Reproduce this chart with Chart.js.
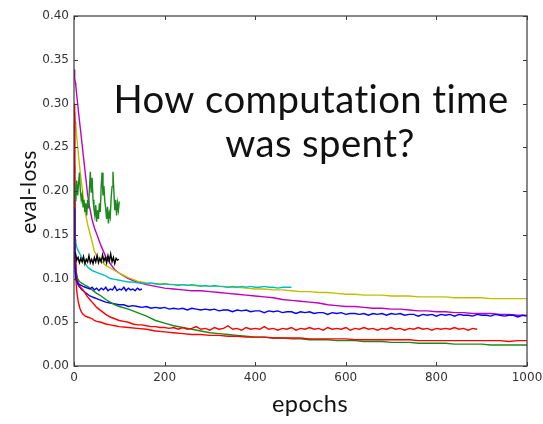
<!DOCTYPE html>
<html>
<head>
<meta charset="utf-8">
<script src="https://cdn.jsdelivr.net/npm/chart.js@4.4.1/dist/chart.umd.min.js"></script>
<style>
  html, body { margin: 0; padding: 0; background: #fff; }
  #wrap { width: 543px; height: 424px; }
</style>
</head>
<body>
<div id="wrap"><canvas id="lossChart" width="543" height="424"></canvas></div>
<script>
function grid(head, from, to, step) {
  const out = head.slice()
  for (let e = from; e <= to; e += step) out.push(e)
  return out
}
const early = [0, 1, 2, 3, 4, 6, 8, 10, 13, 16, 20, 25, 30, 35, 40, 45, 50, 60, 70, 80, 90, 100]

const epochsSmooth = grid(early, 120, 1000, 20)
const epochsBlue = grid(early, 110, 1000, 10)
const epochsRedNoisy = grid(early, 110, 890, 10)
const epochsCyan = grid(early, 110, 480, 10)
const epochsBlueShort = grid([0, 1, 2, 3, 4, 6, 8, 10, 13, 16, 20, 25, 30], 35, 150, 5)
const epochsBlack = grid([], 3, 99, 3)
const epochsGreenShort = grid([], 2, 100, 2)

const xTicks = [0, 200, 400, 600, 800, 1000]
const yTicks = [0, 0.05, 0.1, 0.15, 0.2, 0.25, 0.3, 0.35, 0.4]

const magentaLoss = [
  0.339, 0.334, 0.329, 0.324, 0.320, 0.310, 0.300, 0.290, 0.276, 0.262, 0.243,
  0.220, 0.196, 0.180, 0.167, 0.158, 0.151, 0.137, 0.125, 0.117, 0.110, 0.106,
  0.100, 0.096, 0.093, 0.091, 0.089, 0.088, 0.087, 0.086, 0.086, 0.085, 0.084,
  0.083, 0.082, 0.081, 0.080, 0.079, 0.078, 0.076, 0.075, 0.074, 0.073, 0.072,
  0.070, 0.069, 0.068, 0.068, 0.067, 0.066, 0.066, 0.065, 0.065, 0.064, 0.063,
  0.063, 0.062, 0.062, 0.061, 0.061, 0.060, 0.060, 0.060, 0.059, 0.059, 0.058, 0.058,
]
const yellowLoss = [
  0.285, 0.283, 0.281, 0.279, 0.276, 0.262, 0.252, 0.240, 0.225, 0.212, 0.195,
  0.175, 0.162, 0.152, 0.142, 0.131, 0.126, 0.120, 0.115, 0.112, 0.109, 0.106,
  0.101, 0.097, 0.095, 0.094, 0.094, 0.093, 0.093, 0.092, 0.092, 0.091, 0.091,
  0.090, 0.090, 0.089, 0.088, 0.088, 0.087, 0.087, 0.086, 0.085, 0.085, 0.084,
  0.084, 0.083, 0.082, 0.082, 0.081, 0.081, 0.081, 0.080, 0.080, 0.080, 0.079,
  0.079, 0.079, 0.079, 0.078, 0.078, 0.078, 0.078, 0.077, 0.077, 0.077, 0.077, 0.077,
]
const greenLoss = [
  0.230, 0.170, 0.140, 0.122, 0.112, 0.104, 0.100, 0.098, 0.096, 0.095, 0.094,
  0.092, 0.091, 0.089, 0.087, 0.085, 0.083, 0.080, 0.076, 0.073, 0.070, 0.068,
  0.065, 0.061, 0.057, 0.052, 0.049, 0.046, 0.044, 0.042, 0.040, 0.038, 0.037,
  0.036, 0.035, 0.034, 0.033, 0.033, 0.032, 0.032, 0.031, 0.031, 0.030, 0.030,
  0.030, 0.029, 0.029, 0.029, 0.028, 0.028, 0.028, 0.027, 0.027, 0.027, 0.026,
  0.026, 0.026, 0.026, 0.025, 0.025, 0.025, 0.025, 0.024, 0.024, 0.024, 0.024, 0.024,
]
const redLoss = [
  0.300, 0.190, 0.140, 0.115, 0.100, 0.086, 0.078, 0.072, 0.066, 0.062, 0.059,
  0.057, 0.056, 0.055, 0.054, 0.052, 0.051, 0.050, 0.048, 0.047, 0.046, 0.045,
  0.044, 0.043, 0.042, 0.040, 0.039, 0.038, 0.037, 0.036, 0.036, 0.035, 0.035,
  0.034, 0.034, 0.033, 0.033, 0.033, 0.032, 0.032, 0.032, 0.032, 0.031, 0.031,
  0.031, 0.031, 0.031, 0.030, 0.030, 0.030, 0.030, 0.030, 0.030, 0.030, 0.029,
  0.029, 0.029, 0.029, 0.029, 0.029, 0.029, 0.029, 0.029, 0.029, 0.028, 0.029, 0.029,
]
const redNoisyLoss = [
  0.290, 0.200, 0.150, 0.125, 0.112, 0.102, 0.097, 0.094, 0.091, 0.089, 0.087,
  0.083, 0.079, 0.076, 0.073, 0.070, 0.067, 0.063, 0.059, 0.056, 0.054, 0.052,
  0.051, 0.050, 0.048, 0.047, 0.047, 0.046, 0.045, 0.045, 0.044, 0.044,
  0.043, 0.044, 0.042, 0.044, 0.042, 0.043, 0.045, 0.042, 0.043, 0.041,
  0.044, 0.042, 0.043, 0.046, 0.042, 0.043, 0.041, 0.044, 0.042, 0.043,
  0.042, 0.045, 0.042, 0.043, 0.041, 0.043, 0.042, 0.044, 0.041, 0.043,
  0.042, 0.044, 0.042, 0.043, 0.041, 0.044, 0.042, 0.043, 0.042, 0.044,
  0.041, 0.043, 0.042, 0.044, 0.042, 0.043, 0.041, 0.043, 0.042, 0.044,
  0.042, 0.043, 0.041, 0.043, 0.042, 0.044, 0.042, 0.043, 0.041, 0.043,
  0.042, 0.043, 0.042, 0.044, 0.042, 0.043, 0.041, 0.043, 0.042,
]
const blueLoss = [
  0.200, 0.150, 0.125, 0.110, 0.102, 0.097, 0.094, 0.092, 0.090, 0.088, 0.086,
  0.084, 0.082, 0.080, 0.079, 0.078, 0.077, 0.075, 0.073, 0.072, 0.071, 0.070,
  0.070, 0.068, 0.069, 0.068, 0.067, 0.068, 0.066, 0.067, 0.066, 0.067,
  0.065, 0.066, 0.065, 0.066, 0.064, 0.066, 0.065, 0.064, 0.065, 0.064,
  0.065, 0.063, 0.064, 0.064, 0.062, 0.064, 0.063, 0.064, 0.062, 0.063,
  0.063, 0.061, 0.063, 0.062, 0.063, 0.061, 0.062, 0.062, 0.060, 0.062,
  0.061, 0.062, 0.060, 0.061, 0.061, 0.059, 0.061, 0.060, 0.061, 0.059,
  0.060, 0.060, 0.059, 0.060, 0.058, 0.060, 0.059, 0.060, 0.058, 0.060,
  0.059, 0.060, 0.058, 0.059, 0.059, 0.057, 0.059, 0.058, 0.059, 0.057,
  0.059, 0.058, 0.059, 0.057, 0.059, 0.058, 0.058, 0.057, 0.059, 0.058,
  0.058, 0.057, 0.059, 0.058, 0.057, 0.058, 0.058, 0.056, 0.058, 0.057,
]
const cyanLoss = [
  0.210, 0.175, 0.155, 0.145, 0.140, 0.136, 0.133, 0.131, 0.128, 0.125, 0.122,
  0.117, 0.113, 0.111, 0.109, 0.108, 0.107, 0.105, 0.103, 0.100, 0.099, 0.098,
  0.097, 0.096, 0.096, 0.095, 0.095, 0.094, 0.095, 0.094, 0.093, 0.094,
  0.093, 0.093, 0.092, 0.093, 0.092, 0.093, 0.092, 0.091, 0.092, 0.091,
  0.092, 0.091, 0.091, 0.090, 0.091, 0.090, 0.091, 0.090, 0.091, 0.090,
  0.090, 0.091, 0.090, 0.090, 0.089, 0.090, 0.090, 0.090,
]
const blueShortLoss = [
  0.180, 0.140, 0.118, 0.107, 0.101, 0.097, 0.095, 0.094, 0.093, 0.092, 0.091, 0.090, 0.089,
  0.088, 0.090, 0.087, 0.089, 0.086, 0.089, 0.087, 0.090, 0.086, 0.088, 0.087, 0.091,
  0.086, 0.088, 0.087, 0.090, 0.086, 0.089, 0.087, 0.088, 0.086, 0.089, 0.087, 0.088,
]
const blackLoss = [
  0.130, 0.121, 0.124, 0.118, 0.123, 0.119, 0.125, 0.117, 0.122, 0.119, 0.126,
  0.118, 0.122, 0.117, 0.124, 0.119, 0.126, 0.118, 0.123, 0.119, 0.127, 0.120,
  0.124, 0.118, 0.126, 0.120, 0.128, 0.119, 0.124, 0.117, 0.123, 0.121, 0.122,
]
const greenShortLoss = [
  0.205, 0.188, 0.212, 0.195, 0.208, 0.221, 0.200, 0.190, 0.196, 0.182,
  0.190, 0.176, 0.186, 0.172, 0.190, 0.180, 0.202, 0.222, 0.198, 0.215,
  0.190, 0.180, 0.172, 0.184, 0.165, 0.178, 0.168, 0.186, 0.176, 0.205,
  0.221, 0.195, 0.206, 0.188, 0.180, 0.168, 0.182, 0.163, 0.175, 0.170,
  0.192, 0.205, 0.222, 0.200, 0.178, 0.190, 0.172, 0.186, 0.178, 0.188,
]

function pts(xs, ys) {
  return xs.map((x, i) => ({ x: x, y: ys[i] }))
}
function line(xs, ys, color) {
  return {
    data: pts(xs, ys),
    borderColor: color,
    borderWidth: 1.4,
    pointRadius: 0,
    tension: 0,
    fill: false,
  }
}

const LEFT = 74, RIGHT = 527, TOP = 16, BOTTOM = 366

// draw text scaled to a given width
function fitText(ctx, text, x, y, width, fam) {
  ctx.font = '40px ' + fam
  const size = 40 * width / ctx.measureText(text).width
  ctx.font = size.toFixed(2) + 'px ' + fam
  ctx.fillText(text, x, y)
}

// frame with inward ticks on all four sides, plus the texts
const decorations = {
  id: 'decorations',
  afterDraw(chart) {
    const ctx = chart.ctx
    const { left, right, top, bottom } = chart.chartArea
    const xs = chart.scales.x, ys = chart.scales.y
    ctx.save()
    ctx.strokeStyle = '#3a3a3a'
    ctx.lineWidth = 1.2
    ctx.strokeRect(left, top, right - left, bottom - top)
    ctx.lineWidth = 1
    ctx.beginPath()
    xTicks.forEach(v => {
      const px = Math.round(xs.getPixelForValue(v)) + 0.5
      ctx.moveTo(px, bottom); ctx.lineTo(px, bottom - 4)
      ctx.moveTo(px, top); ctx.lineTo(px, top + 4)
    })
    yTicks.forEach(v => {
      const py = Math.round(ys.getPixelForValue(v)) + 0.5
      ctx.moveTo(left, py); ctx.lineTo(left + 4, py)
      ctx.moveTo(right, py); ctx.lineTo(right - 4, py)
    })
    ctx.stroke()

    ctx.fillStyle = '#111'
    ctx.textAlign = 'center'
    ctx.textBaseline = 'alphabetic'
    ctx.textRendering = 'optimizeSpeed'
    ctx.letterSpacing = '0.4px'
    const fam = 'Lato, "Noto Sans", sans-serif'
    fitText(ctx, 'How computation time', 311, 113, 395, fam)
    ctx.fillText('was spent?', 320, 157)

    fitText(ctx, 'epochs', 310, 412, 75, fam)

    ctx.translate(36, 192)
    ctx.rotate(-Math.PI / 2)
    fitText(ctx, 'eval-loss', 0, 0, 82, fam)
    ctx.restore()
  },
}

const tickFont = { family: '"DejaVu Sans", sans-serif', size: 12 }

new Chart(document.getElementById('lossChart'), {
  type: 'line',
  data: {
    datasets: [
      line(epochsBlack, blackLoss, '#000000'),
      line(epochsGreenShort, greenShortLoss, '#1a8a1a'),
      line(epochsBlueShort, blueShortLoss, '#0000ff'),
      line(epochsRedNoisy, redNoisyLoss, '#ff0000'),
      line(epochsSmooth, redLoss, '#ff0000'),
      line(epochsSmooth, greenLoss, '#1a8a1a'),
      line(epochsBlue, blueLoss, '#0000ff'),
      line(epochsCyan, cyanLoss, '#00bfbf'),
      line(epochsSmooth, yellowLoss, '#bfbf00'),
      line(epochsSmooth, magentaLoss, '#bf00bf'),
    ],
  },
  options: {
    responsive: false,
    animation: false,
    devicePixelRatio: 1,
    layout: { padding: { top: TOP, right: 543 - RIGHT, left: 0, bottom: 0 } },
    plugins: {
      legend: { display: false },
      tooltip: { enabled: false },
    },
    scales: {
      x: {
        type: 'linear',
        min: 0,
        max: 1000,
        afterFit: s => {
          s.height = 424 - BOTTOM
          s.paddingLeft = 0
          s.paddingRight = 0
        },
        afterBuildTicks: s => { s.ticks = xTicks.map(v => ({ value: v })) },
        grid: { display: false, drawTicks: false },
        border: { display: false },
        ticks: {
          font: tickFont,
          color: '#333',
          padding: 5,
          maxRotation: 0,
          callback: v => String(v),
        },
      },
      y: {
        type: 'linear',
        min: 0,
        max: 0.4,
        afterFit: s => {
          s.width = LEFT
          s.paddingTop = 0
          s.paddingBottom = 0
        },
        afterBuildTicks: s => { s.ticks = yTicks.map(v => ({ value: v })) },
        grid: { display: false, drawTicks: false },
        border: { display: false },
        ticks: {
          font: tickFont,
          color: '#333',
          padding: 5,
          callback: v => Number(v).toFixed(2),
        },
      },
    },
  },
  plugins: [decorations],
})
</script>
</body>
</html>
